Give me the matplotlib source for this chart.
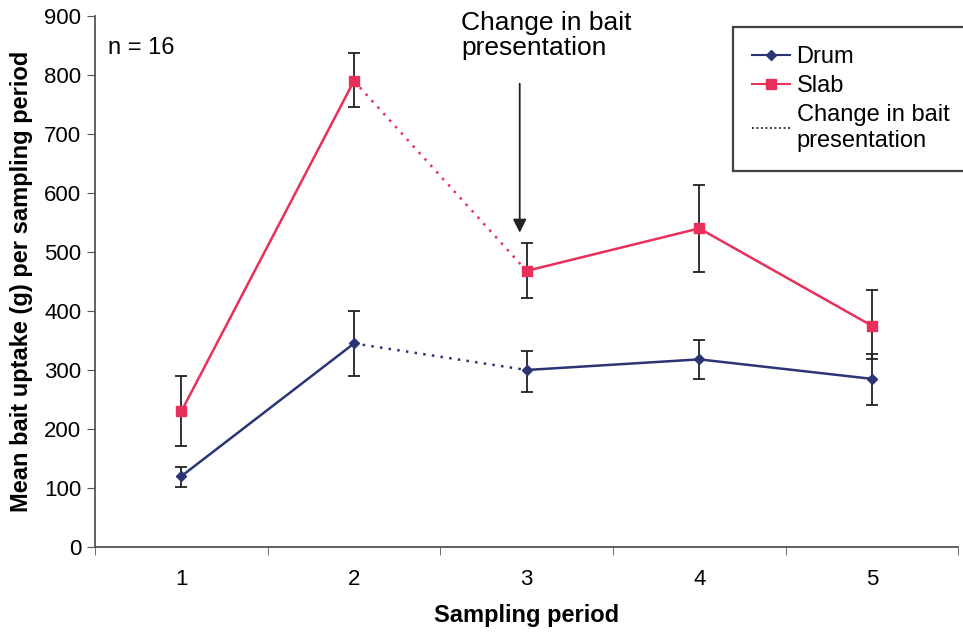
import matplotlib.pyplot as plt
from matplotlib.lines import Line2D

plt.rcParams['font.family'] = ['Liberation Sans', 'DejaVu Sans']

periods = [1, 2, 3, 4, 5]
drum = [120, 345, 300, 318, 285]
drum_lo = [102, 290, 263, 285, 240]
drum_hi = [135, 400, 333, 350, 327]
slab = [230, 790, 468, 540, 375]
slab_lo = [172, 745, 422, 466, 318]
slab_hi = [290, 837, 515, 613, 435]

drum_col = '#2b3575'
slab_col = '#e8305a'

fig = plt.figure(figsize=(9.63, 6.32), dpi=100)
ax = fig.add_axes([0.0987, 0.1345, 0.8963, 0.8402])


def draw(vals, lo, hi, col, mk, ms):
    yerr = [[v - l for v, l in zip(vals, lo)], [h - v for v, h in zip(vals, hi)]]
    ax.errorbar(periods, vals, yerr=yerr, fmt='none', ecolor='#222222',
                elinewidth=1.3, capsize=4, capthick=1.3, zorder=2)
    # solid before and after the change, dotted across it
    ax.plot(periods[:2], vals[:2], color=col, lw=1.8, zorder=3)
    ax.plot(periods[1:3], vals[1:3], color=col, lw=1.8, ls=(0, (1, 2.5)), zorder=3)
    ax.plot(periods[2:], vals[2:], color=col, lw=1.8, zorder=3)
    ax.plot(periods, vals, ls='none', marker=mk, ms=ms, color=col, zorder=4)


draw(drum, drum_lo, drum_hi, drum_col, 'D', 5)
draw(slab, slab_lo, slab_hi, slab_col, 's', 7)

ax.set_xlim(0.5, 5.5)
ax.set_ylim(0, 900)
ax.set_yticks(range(0, 901, 100))
ax.set_xticks(periods)
ax.set_xticks([0.5, 1.5, 2.5, 3.5, 4.5, 5.5], minor=True)
ax.tick_params(axis='x', which='major', length=0, labelsize=16, pad=16)
ax.tick_params(axis='x', which='minor', length=6, direction='out', color='#555555')
ax.tick_params(axis='y', labelsize=16, length=6, direction='out', color='#555555',
               pad=4)
for s in ['top', 'right']:
    ax.spines[s].set_visible(False)
for s in ['left', 'bottom']:
    ax.spines[s].set_color('#555555')
    ax.spines[s].set_linewidth(1.3)

ax.set_xlabel('Sampling period', fontsize=17, fontweight='bold', labelpad=10)
ax.set_ylabel('Mean bait uptake (g) per sampling period', fontsize=17,
              fontweight='bold', labelpad=8)

ax.text(0.015, 0.94, 'n = 16', transform=ax.transAxes, fontsize=17, va='center')

ax.annotate('', xy=(2.96, 528), xytext=(2.96, 790),
            arrowprops=dict(arrowstyle='-|>', color='#222222', lw=1.3,
                            mutation_scale=20))
ax.text(2.62, 908, 'Change in bait\npresentation', fontsize=19, va='top',
        ha='left', linespacing=1.05)

handles = [
    Line2D([], [], color=drum_col, marker='D', ms=5, lw=1.5),
    Line2D([], [], color=slab_col, marker='s', ms=7, lw=1.5),
    Line2D([], [], color='#222222', lw=1.3, ls=(0, (1, 1.5))),
]
# box runs off the right edge like in the original
leg = fig.legend(handles, ['Drum', 'Slab', 'Change in bait\npresentation'],
                 loc='upper left', bbox_to_anchor=(0.761, 0.72, 0.26, 0.237),
                 mode='expand', borderaxespad=0, fontsize=17, frameon=True,
                 fancybox=False, handlelength=1.6, handletextpad=0.3,
                 borderpad=0.8, labelspacing=0.3)
leg.get_frame().set_edgecolor('#111111')
leg.get_frame().set_linewidth(1.6)

fig.savefig('out.png', dpi=100)
